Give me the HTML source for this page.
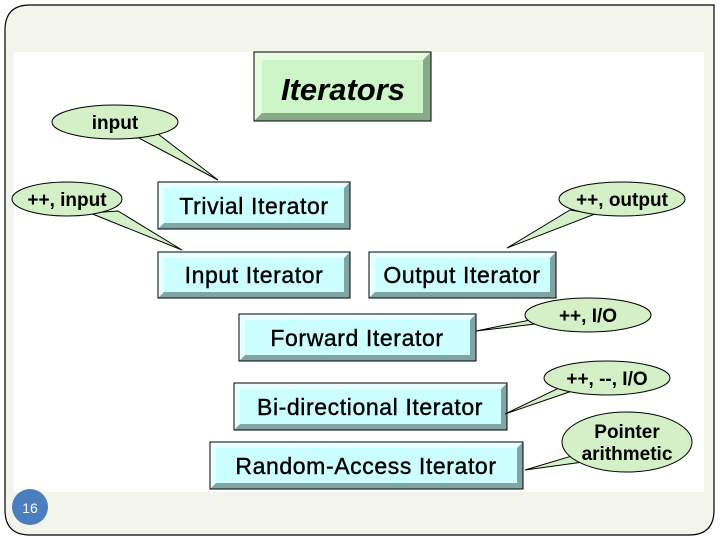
<!DOCTYPE html>
<html><head><meta charset="utf-8"><style>
html,body{margin:0;padding:0;background:#fff;}
svg{display:block;}
text{font-family:"Liberation Sans",Arial,sans-serif;}
</style></head><body>
<svg width="720" height="540" viewBox="0 0 720 540" xmlns="http://www.w3.org/2000/svg">
<rect x="0" y="0" width="720" height="540" fill="#fff"/>
<path d="M30,5 H714 V510 Q714,535 689,535 H30 Q5,535 5,510 V30 Q5,5 30,5 Z" fill="#f3f4ec" stroke="#000" stroke-width="1.2"/>
<rect x="14" y="52" width="690" height="440" fill="#fff"/>

<rect x="254" y="52" width="177" height="69" fill="#86ab86" stroke="#000"/>
<polygon points="254,52 431,52 423,60 262,60 262,113 254,121" fill="#e6fbe0"/>
<rect x="262" y="60" width="161" height="53" fill="#ccf5c8"/>
<rect x="254" y="52" width="177" height="69" fill="none" stroke="#000"/>
<text x="343" y="100" font-family="'DejaVu Serif','Liberation Serif',serif" font-style="italic" font-weight="bold" font-size="31" text-anchor="middle" fill="#000">Iterators</text>

<g stroke="none">
<rect x="158" y="182" width="192" height="47" fill="#7fa5a5"/>
<polygon points="158,182 350,182 344,188 164,188 164,223 158,229" fill="#eaffff"/>
<rect x="164" y="188" width="180" height="35" fill="#ccffff"/>

<rect x="158" y="252" width="192" height="46" fill="#7fa5a5"/>
<polygon points="158,252 350,252 344,258 164,258 164,292 158,298" fill="#eaffff"/>
<rect x="164" y="258" width="180" height="34" fill="#ccffff"/>

<rect x="369" y="252" width="187" height="46" fill="#7fa5a5"/>
<polygon points="369,252 556,252 550,258 375,258 375,292 369,298" fill="#eaffff"/>
<rect x="375" y="258" width="175" height="34" fill="#ccffff"/>

<rect x="239" y="314" width="237" height="47" fill="#7fa5a5"/>
<polygon points="239,314 476,314 470,320 245,320 245,355 239,361" fill="#eaffff"/>
<rect x="245" y="320" width="225" height="35" fill="#ccffff"/>

<rect x="234" y="383" width="273" height="47" fill="#7fa5a5"/>
<polygon points="234,383 507,383 501,389 240,389 240,424 234,430" fill="#eaffff"/>
<rect x="240" y="389" width="261" height="35" fill="#ccffff"/>

<rect x="210" y="442" width="313" height="47" fill="#7fa5a5"/>
<polygon points="210,442 523,442 517,448 216,448 216,483 210,489" fill="#eaffff"/>
<rect x="216" y="448" width="301" height="35" fill="#ccffff"/>
</g>
<g fill="none" stroke="#000" stroke-width="1">
<rect x="158" y="182" width="192" height="47"/>
<rect x="158" y="252" width="192" height="46"/>
<rect x="369" y="252" width="187" height="46"/>
<rect x="239" y="314" width="237" height="47"/>
<rect x="234" y="383" width="273" height="47"/>
<rect x="210" y="442" width="313" height="47"/>
</g>
<g font-size="23" text-anchor="middle" fill="#000" stroke="#000" stroke-width="0.4" letter-spacing="0.6">
<text x="254" y="214">Trivial Iterator</text>
<text x="254" y="283">Input Iterator</text>
<text x="462" y="283">Output Iterator</text>
<text x="357" y="346">Forward Iterator</text>
<text x="370" y="415">Bi-directional Iterator</text>
<text x="366" y="474">Random-Access Iterator</text>
</g>

<g fill="#d3f0c6" stroke="#000" stroke-width="1">
<polygon points="135,136 158,134 218,180"/>
<ellipse cx="115" cy="122" rx="63" ry="17"/>
<polygon points="90,213 118,211 182,250"/>
<ellipse cx="67" cy="199" rx="55" ry="17"/>
<polygon points="570,210 595,214 507,248"/>
<ellipse cx="622" cy="199" rx="63" ry="17"/>
<polygon points="540,318 535,324 476,331"/>
<ellipse cx="588" cy="315" rx="63" ry="17"/>
<polygon points="565,385 575,390 505,414"/>
<ellipse cx="607" cy="378" rx="63" ry="17"/>
<polygon points="575,455 583,462 525,470"/>
<ellipse cx="627" cy="442" rx="65" ry="30"/>
</g>
<g font-size="19" font-weight="bold" text-anchor="middle" fill="#000">
<text x="115" y="129">input</text>
<text x="67" y="206">++, input</text>
<text x="622" y="206">++, output</text>
<text x="588" y="322">++, I/O</text>
<text x="607" y="385">++, --, I/O</text>
<text x="627" y="438">Pointer</text>
<text x="627" y="460">arithmetic</text>
</g>

<circle cx="30" cy="507" r="18" fill="#4a7ebf"/>
<text x="30" y="513" font-size="14" text-anchor="middle" fill="#fff">16</text>
</svg>
</body></html>
